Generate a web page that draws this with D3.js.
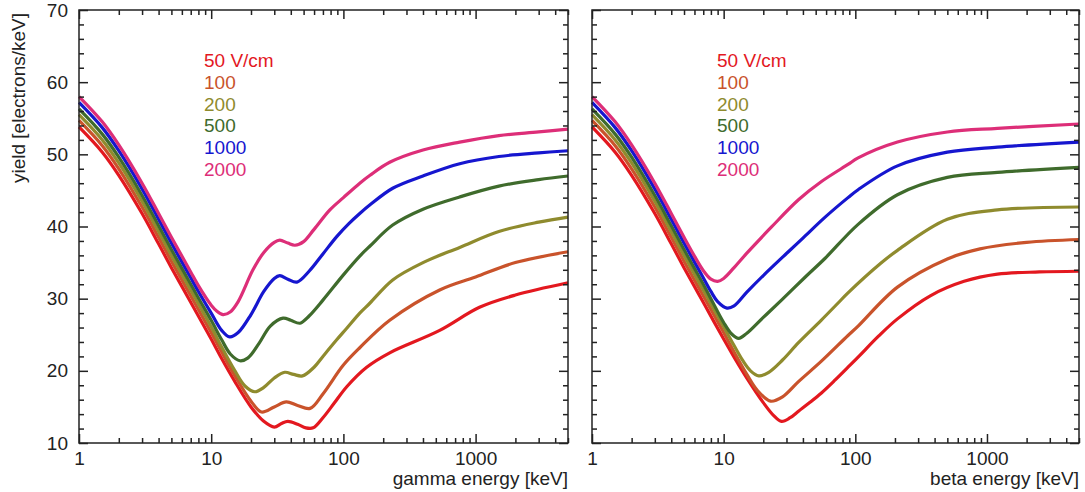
<!DOCTYPE html>
<html>
<head>
<meta charset="utf-8">
<script src="https://cdn.jsdelivr.net/npm/d3@7"></script>
<style>
body { margin: 0; background: #fff; }
text { font-family: "Liberation Sans", Arial, sans-serif; fill: #222; }
</style>
</head>
<body>
<div id="graphic"></div>
<script>
// drift fields (legend) and colours
var fields = ["50 V/cm", "100", "200", "500", "1000", "2000"];
var colors = ["#e3181f", "#c9532b", "#8f8b2e", "#3f6b2c", "#1616cf", "#dd2e78"];

var xTicks = [1, 10, 100, 1000];
var yTicks = [10, 20, 30, 40, 50, 60, 70];

// gamma panel, [energy keV, yield]
var gamma50 = [[1,53.8],[1.5,50.3],[2,47.1],[3,41.8],[4,37.6],[5,34.3],[6,31.7],[7,29.5],[8,27.6],[10,24.4],[12,21.7],[15,18.6],[20,15.0],[25,13.0],[30,12.2],[34,12.7],[38,13.0],[45,12.6],[52,12.1],[59,12.1],[70,13.5],[85,15.5],[106,17.8],[150,20.5],[224,22.5],[535,25.6],[1070,28.8],[2000,30.5],[5000,32.2]];
var gamma100 = [[1,54.7],[1.5,51.2],[2,48.0],[3,42.7],[4,38.5],[5,35.2],[6,32.6],[7,30.4],[8,28.5],[10,25.3],[12,22.6],[15,19.4],[20,15.8],[24,14.3],[30,15.0],[37,15.7],[45,15.2],[56,14.8],[70,16.8],[100,20.8],[133,23.2],[224,27.0],[535,31.2],[1000,33.0],[2000,35.0],[5000,36.5]];
var gamma200 = [[1,55.5],[1.5,52.0],[2,48.8],[3,43.5],[4,39.3],[5,36.0],[6,33.4],[7,31.2],[8,29.3],[10,26.1],[12,23.3],[15,20.1],[18,17.9],[21.4,17.1],[25,17.7],[30,19.0],[36,19.8],[42,19.5],[49,19.3],[60,20.5],[70,22.0],[89,24.3],[106,25.9],[133,28.0],[159,29.4],[236,32.6],[400,35.0],[758,37.1],[1500,39.3],[3000,40.6],[5000,41.3]];
var gamma500 = [[1,56.3],[1.5,52.8],[2,49.6],[3,44.3],[4,40.1],[5,36.8],[6,34.2],[7,32.0],[8,30.1],[10,27.0],[12,24.3],[14,22.3],[16.5,21.4],[19,21.8],[23,23.8],[28,26.2],[35,27.3],[40,27.0],[47,26.6],[55,27.6],[70,29.8],[100,33.3],[133,35.9],[159,37.3],[236,40.2],[400,42.4],[758,44.1],[1500,45.6],[3000,46.5],[5000,47.0]];
var gamma1000 = [[1,57.2],[1.5,53.7],[2,50.5],[3,45.2],[4,41.0],[5,37.7],[6,35.1],[7,32.9],[8,31.0],[10,28.0],[12,25.6],[13.8,24.7],[16,25.3],[20,27.8],[25,31.0],[30,32.8],[33,33.2],[38,32.7],[44.5,32.3],[55,33.8],[70,36.2],[89,38.6],[110,40.4],[133,41.8],[159,43.0],[236,45.3],[400,47.0],[758,48.7],[1500,49.7],[3000,50.2],[5000,50.5]];
var gamma2000 = [[1,58.0],[1.5,54.5],[2,51.3],[3,46.0],[4,41.8],[5,38.5],[6,35.9],[7,33.7],[8,31.8],[9,30.3],[10,29.1],[11,28.3],[12.3,27.8],[14,28.2],[16,29.6],[20.7,34.0],[25,36.4],[30,37.8],[33,38.1],[38,37.7],[43,37.4],[50,37.9],[60,39.6],[79,42.3],[100,44.0],[133,46.0],[159,47.1],[224,48.9],[400,50.6],[758,51.7],[1500,52.6],[3000,53.1],[5000,53.5]];

// beta panel
var beta50 = [[1,53.8],[1.5,50.3],[2,47.1],[3,41.8],[4,37.6],[5,34.3],[6,31.7],[7,29.5],[10,24.4],[12,21.9],[15,19.0],[20,15.6],[24,13.8],[27.5,13.0],[32,13.5],[37,14.4],[45,15.6],[55,16.9],[70,18.7],[88,20.5],[105,21.9],[150,24.8],[209,27.2],[371,30.4],[670,32.4],[1200,33.4],[2500,33.7],[5000,33.8]];
var beta100 = [[1,54.7],[1.5,51.2],[2,48.0],[3,42.7],[4,38.5],[5,35.2],[6,32.6],[7,30.4],[10,25.3],[12,22.6],[15,19.5],[18,17.3],[22.7,15.8],[28,16.4],[37,18.5],[55,21.3],[88,24.9],[105,26.2],[209,31.6],[500,35.5],[885,36.9],[2000,37.8],[5000,38.2]];
var beta200 = [[1,55.5],[1.5,52.0],[2,48.8],[3,43.5],[4,39.3],[5,36.0],[6,33.4],[7,31.2],[10,26.1],[12,23.5],[14,21.4],[16,20.0],[18.5,19.3],[22,19.8],[28,21.5],[37,23.9],[55,27.0],[74,29.4],[88,30.8],[156,34.9],[209,36.7],[500,41.0],[1200,42.3],[5000,42.7]];
var beta500 = [[1,56.3],[1.5,52.8],[2,49.6],[3,44.3],[4,40.1],[5,36.8],[6,34.2],[7,32.0],[8,30.0],[10,26.7],[11.5,25.1],[13,24.5],[15,25.2],[20,27.4],[27.5,29.8],[41.7,33.0],[59,35.6],[105,40.3],[209,44.4],[500,46.8],[1200,47.5],[5000,48.2]];
var beta1000 = [[1,57.2],[1.5,53.7],[2,50.5],[3,45.2],[4,41.0],[5,37.7],[6,35.1],[7,32.9],[8,31.0],[9,29.6],[10.6,28.7],[12,29.0],[15,30.9],[20,33.2],[31,36.5],[40,38.4],[59,41.3],[88,44.0],[105,45.1],[209,48.4],[500,50.3],[1200,51.0],[5000,51.7]];
var beta2000 = [[1,58.0],[1.5,54.5],[2,51.3],[3,46.0],[4,41.8],[5,38.5],[6,35.9],[7,33.9],[8,32.7],[9,32.4],[10,32.8],[12,34.3],[15,36.3],[23,39.9],[37,43.7],[55,46.2],[88,48.6],[105,49.5],[209,51.7],[500,53.1],[1200,53.6],[5000,54.2]];

var gammaSeries = [gamma50, gamma100, gamma200, gamma500, gamma1000, gamma2000];
var betaSeries = [beta50, beta100, beta200, beta500, beta1000, beta2000];

var width = 1085, height = 492;
var plotTop = 10, plotBottom = 443;

var svg = d3.select("#graphic")
  .append("svg")
  .attr("width", width)
  .attr("height", height);

var y = d3.scaleLinear().domain([10, 70]).range([plotBottom, plotTop]);

function drawPanel(left, right, series, xTitle, yLabels, legendX) {
  var x = d3.scaleLog().domain([1, 5000]).range([left, right]);
  var g = svg.append("g");

  var minorX = x.ticks().filter(function(d) { return xTicks.indexOf(d) < 0; });
  var minorY = d3.range(12, 70, 2).filter(function(d) { return d % 10 != 0; });

  // curves
  var line = d3.line()
    .x(function(d) { return x(d[0]); })
    .y(function(d) { return y(d[1]); })
    .curve(d3.curveCatmullRom.alpha(0.5));

  g.selectAll("path.curve")
    .data(series)
    .enter().append("path")
    .attr("class", "curve")
    .attr("d", line)
    .attr("fill", "none")
    .attr("stroke", function(d, i) { return colors[i]; })
    .attr("stroke-width", 3.2)
    .attr("stroke-linejoin", "round");

  // ticks (pointing inward on all sides)
  function axisStyle(sel) {
    sel.select(".domain").remove();
    sel.selectAll("line").attr("stroke", "#222").attr("stroke-width", 1.5);
    sel.selectAll("text").style("font-size", "19px").attr("fill", "#222")
      .style("font-family", "'Liberation Sans', Arial, sans-serif");
  }

  g.append("g").attr("transform", "translate(0," + plotBottom + ")")
    .call(d3.axisBottom(x).tickValues(xTicks).tickSize(-9).tickPadding(9).tickFormat(d3.format("d")))
    .call(axisStyle);
  g.append("g").attr("transform", "translate(0," + plotBottom + ")")
    .call(d3.axisBottom(x).tickValues(minorX).tickSize(-5).tickFormat(""))
    .call(axisStyle);
  g.append("g").attr("transform", "translate(0," + plotTop + ")")
    .call(d3.axisTop(x).tickValues(xTicks).tickSize(-9).tickFormat(""))
    .call(axisStyle);
  g.append("g").attr("transform", "translate(0," + plotTop + ")")
    .call(d3.axisTop(x).tickValues(minorX).tickSize(-5).tickFormat(""))
    .call(axisStyle);

  var yl = d3.axisLeft(y).tickValues(yTicks).tickSize(-9).tickPadding(11);
  if (!yLabels) yl.tickFormat("");
  g.append("g").attr("transform", "translate(" + left + ",0)")
    .call(yl)
    .call(axisStyle);
  g.append("g").attr("transform", "translate(" + left + ",0)")
    .call(d3.axisLeft(y).tickValues(minorY).tickSize(-5).tickFormat(""))
    .call(axisStyle);
  g.append("g").attr("transform", "translate(" + right + ",0)")
    .call(d3.axisRight(y).tickValues(yTicks).tickSize(-9).tickFormat(""))
    .call(axisStyle);
  g.append("g").attr("transform", "translate(" + right + ",0)")
    .call(d3.axisRight(y).tickValues(minorY).tickSize(-5).tickFormat(""))
    .call(axisStyle);

  // frame
  g.append("rect")
    .attr("x", left).attr("y", plotTop)
    .attr("width", right - left).attr("height", plotBottom - plotTop)
    .attr("fill", "none")
    .attr("stroke", "#222")
    .attr("stroke-width", 1.5);

  // x title
  g.append("text")
    .attr("x", right)
    .attr("y", 485)
    .attr("text-anchor", "end")
    .style("font-size", "19px")
    .text(xTitle);

  // legend
  g.selectAll("text.legend")
    .data(fields)
    .enter().append("text")
    .attr("class", "legend")
    .attr("x", legendX)
    .attr("y", function(d, i) { return 67 + i * 21.8; })
    .style("font-size", "19px")
    .style("fill", function(d, i) { return colors[i]; })
    .text(function(d) { return d; });
}

drawPanel(79, 568, gammaSeries, "gamma energy [keV]", true, 204);
drawPanel(592, 1079, betaSeries, "beta energy [keV]", false, 717);

// y title
svg.append("text")
  .attr("transform", "translate(25,13) rotate(-90)")
  .attr("text-anchor", "end")
  .style("font-size", "19px")
  .text("yield [electrons/keV]");
</script>
</body>
</html>
